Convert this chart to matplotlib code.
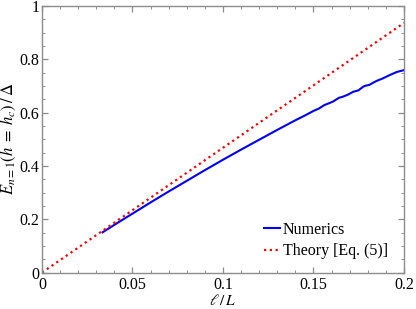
import matplotlib
matplotlib.use("Agg")
import matplotlib.pyplot as plt
from matplotlib.ticker import MultipleLocator

plt.rcParams["font.family"] = ["Liberation Serif", "DejaVu Serif"]
plt.rcParams["mathtext.fontset"] = "stix"

# numerics (blue)
num_x = [0.0335, 0.04, 0.05, 0.06, 0.07, 0.08, 0.09, 0.10, 0.11, 0.12, 0.13, 0.14,
         0.145, 0.150, 0.153, 0.156, 0.159, 0.161, 0.164, 0.1665, 0.169, 0.172,
         0.1748, 0.1775, 0.1785, 0.181, 0.183, 0.185, 0.188, 0.1923, 0.196, 0.2]
num_y = [0.151, 0.179, 0.221, 0.263, 0.304, 0.344, 0.384, 0.423, 0.461, 0.498, 0.535, 0.571,
         0.588, 0.606, 0.615, 0.628, 0.636, 0.642, 0.655, 0.660, 0.667, 0.678,
         0.683, 0.697, 0.700, 0.704, 0.712, 0.719, 0.727, 0.741, 0.752, 0.759]

# theory (red dotted)
th_x = [0.0, 0.2]
th_y = [0.0, 0.936]

xticks = [0, 0.05, 0.1, 0.15, 0.2]
xtick_labels = ["0", "0.05", "0.1", "0.15", "0.2"]
yticks = [0, 0.2, 0.4, 0.6, 0.8, 1.0]
ytick_labels = ["0", "0.2", "0.4", "0.6", "0.8", "1"]

fig = plt.figure(figsize=(4.16, 3.09), dpi=100)
ax = fig.add_axes([0.101, 0.118, 0.870, 0.863])

ax.plot(num_x, num_y, color="#0000ff", lw=1.5, label="Numerics")
ax.plot(th_x, th_y, color="#ff0000", lw=1.6, linestyle=(0, (1, 1.6)),
        label="Theory [Eq. (5)]")

ax.set_xlim(0, 0.2)
ax.set_ylim(0, 1)
ax.set_xticks(xticks)
ax.set_xticklabels(xtick_labels)
ax.set_yticks(yticks)
ax.set_yticklabels(ytick_labels)
ax.xaxis.set_minor_locator(MultipleLocator(0.01))
ax.yaxis.set_minor_locator(MultipleLocator(0.05))

for s in ax.spines.values():
    s.set_color("#8c8c8c")
    s.set_linewidth(1.0)
ax.tick_params(which="both", direction="in", top=True, right=True, color="#8c8c8c",
               labelsize=11.5)
ax.tick_params(which="major", length=4.5, width=0.9)
ax.tick_params(which="minor", length=2.5, width=0.7)
ax.tick_params(axis="y", pad=2)
ax.tick_params(axis="x", pad=3)

ax.set_xlabel(r"$\ell\,/\,L$", fontsize=11, labelpad=0)
ax.set_ylabel(r"$E_{n=1}(h\;=\;h_c)\,/\,\Delta$", fontsize=12, labelpad=1)

ax.legend(loc="lower right", frameon=False, fontsize=11.5, handlelength=1.0,
          handletextpad=0.2, borderaxespad=0.6, labelspacing=0.35,
          bbox_to_anchor=(1.0, -0.01))

fig.savefig("out.png", dpi=100)
